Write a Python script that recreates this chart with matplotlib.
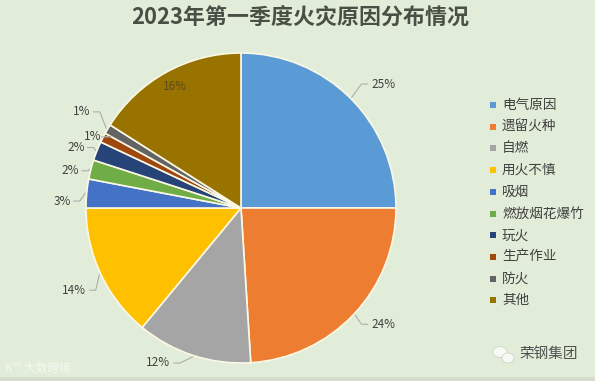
import numpy as np
import matplotlib
matplotlib.use("Agg")
import matplotlib.pyplot as plt
from matplotlib.patches import Ellipse

plt.rcParams['font.family'] = ['Noto Sans CJK SC', 'DejaVu Sans']

title = "2023年第一季度火灾原因分布情况"
categories = ["电气原因", "遗留火种", "自燃", "用火不慎", "吸烟",
              "燃放烟花爆竹", "玩火", "生产作业", "防火", "其他"]
values = [25, 24, 12, 14, 3, 2, 2, 1, 1, 16]
colors = ["#5B9BD5", "#ED7D31", "#A5A5A5", "#FFC000", "#4472C4",
          "#70AD47", "#264478", "#9E480E", "#636363", "#997300"]

# label positions (in pie-radius units) – layout only
label_pos = [(0.92, 0.80), (0.92, -0.75), (-0.535, -1.00), (-1.08, -0.53),
             (-1.155, 0.045), (-1.10, 0.24), (-1.065, 0.39), (-0.955, 0.46),
             (-1.026, 0.62), (-0.425, 0.787)]

W, H = 595, 381
cx, cy, R = 241, 208, 155
bg = "#E2EDD9"

fig = plt.figure(figsize=(W / 100, H / 100), dpi=100, facecolor=bg)
ax = fig.add_axes([0, 0, 1, 1])
ax.set_facecolor(bg)

wedges, _ = ax.pie(values, colors=colors, startangle=90, counterclock=False,
                   radius=1.0, center=(0, 0),
                   wedgeprops=dict(edgecolor="#FBF8E6", linewidth=1.2))
ax.set_xlim(-cx / R, (W - cx) / R)
ax.set_ylim(-(H - cy) / R, cy / R)
ax.set_aspect('equal')
ax.axis('off')

total = sum(values)
start = 90.0
for i, v in enumerate(values):
    ang = start - 360.0 * v / total / 2
    start -= 360.0 * v / total
    lx, ly = label_pos[i]
    txt = f"{v}%"
    if i == len(values) - 1:
        ax.text(lx, ly, txt, ha='center', va='center', fontsize=8.5,
                color="#5A4A14")
        continue
    ex, ey = np.cos(np.radians(ang)) * 1.01, np.sin(np.radians(ang)) * 1.01
    ax.text(lx, ly, txt, ha='center', va='center', fontsize=8.5, color="#404040")
    off = (len(txt) * 4.3 + 3) / R
    tx = lx - off if ex > 0 else lx + off
    elbow = tx - 0.04 if ex > 0 else tx + 0.04
    ax.plot([ex, elbow, tx], [ey, ly, ly], color="#A6A6A6", lw=0.7,
            solid_joinstyle='round')

# legend
for i, (c, cat) in enumerate(zip(colors, categories)):
    ypx = 105 + i * 21.7
    fig.patches.append(plt.Rectangle((490 / W, 1 - (ypx + 3) / H), 6 / W, 6 / H,
                                     transform=fig.transFigure, facecolor=c,
                                     edgecolor='none'))
    fig.text(502 / W, 1 - ypx / H, cat, fontsize=9.8, color="#404040",
             ha='left', va='center')

fig.text(300 / W, 1 - 17 / H, title, fontsize=15.8, fontweight='bold',
         color="#4A4F45", ha='center', va='center')

# bottom band
fig.patches.append(plt.Rectangle((0, 0), 1, 4 / H, transform=fig.transFigure,
                                 facecolor="#D5DECD", edgecolor='none'))

# watermarks
fig.text(5 / W, 1 - 368 / H, "K°° 大数跨境", fontsize=8.5, color="#F4F7F0",
         ha='left', va='center')
# small chat-bubble icon drawn as shapes
for (ex_, ey_, ew, eh) in [(500, 352, 14, 11), (508, 358, 12, 10)]:
    fig.patches.append(Ellipse((ex_ / W, 1 - ey_ / H), ew / W, eh / H,
                               transform=fig.transFigure, facecolor="#F7F9F4",
                               edgecolor="#C8D0C0", linewidth=0.5))
fig.text(520 / W, 1 - 354 / H, "荣钢集团", fontsize=10.5, color="#505050",
         ha='left', va='center')

fig.savefig("out.png", dpi=100, facecolor=bg)
